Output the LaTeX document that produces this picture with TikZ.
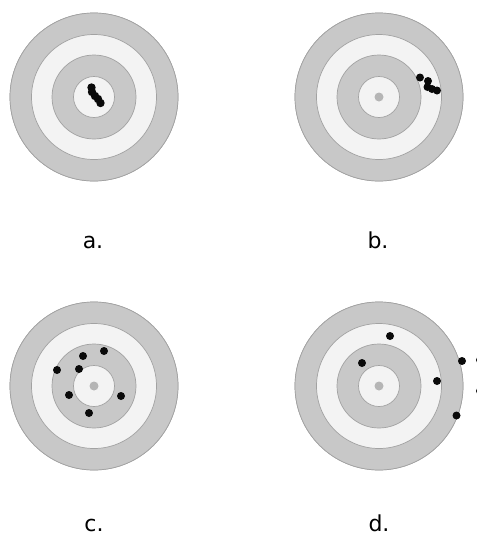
\documentclass[tikz,border=0pt]{standalone}
\usepackage{fontspec}
\setmainfont{DejaVu Sans}
\definecolor{ringgray}{HTML}{C8C8C8}
\definecolor{ringlight}{HTML}{F3F3F3}
\definecolor{ringline}{HTML}{A2A2A2}
\definecolor{dotgray}{HTML}{B5B5B5}
\definecolor{shotblack}{HTML}{0A0A0A}
\tikzset{
  ringdark/.style={fill=ringgray, draw=ringline, line width=0.7pt},
  ringpale/.style={fill=ringlight, draw=ringline, line width=0.7pt},
  centerdot/.style={fill=dotgray},
  shot/.style={fill=shotblack},
  lbl/.style={anchor=base, font=\fontsize{22}{26}\selectfont, text=black, inner sep=0pt},
}
\newcommand{\targetat}[2]{%
  \fill[ringdark] (#1,#2) circle (84);
  \fill[ringpale] (#1,#2) circle (62.5);
  \fill[ringdark] (#1,#2) circle (42);
  \fill[ringpale] (#1,#2) circle (20.5);
  \draw[ringdark] (#1,#2) circle (84);
  \draw[ringpale] (#1,#2) circle (62.5);
  \draw[ringdark] (#1,#2) circle (42);
  \draw[ringpale] (#1,#2) circle (20.5);
}
\begin{document}
\begin{tikzpicture}[x=1pt,y=-1pt]
\useasboundingbox (0,0) rectangle (477,536);
\begin{scope}
\clip (0,0) rectangle (477,536);
% a
\targetat{94}{97}
\foreach \px/\py in {91.5/87.5, 92/92, 95/96, 98/99, 100.5/103}
  \fill[shot] (\px,\py) circle (4.2);
% b
\targetat{379}{97}
\fill[centerdot] (379,97) circle (4.5);
\foreach \px/\py in {420/77.5, 428/81, 427.5/87, 432/89, 437/90.5}
  \fill[shot] (\px,\py) circle (4);
% c
\targetat{94}{386}
\fill[centerdot] (94,386) circle (4.5);
\foreach \px/\py in {104/351, 83/356, 57/370, 79/369, 69/395, 89/413, 121/396}
  \fill[shot] (\px,\py) circle (4);
% d
\targetat{379}{386}
\fill[centerdot] (379,386) circle (4.5);
\foreach \px/\py in {390/336, 362/363, 437/381, 462/361, 456.5/415.5, 480/360, 480/391}
  \fill[shot] (\px,\py) circle (4);
\end{scope}
\node[lbl] (la) at (93,248) {a.};
\node[lbl] (lb) at (378,248) {b.};
\node[lbl] (lc) at (94,531) {c.};
\node[lbl] (ld) at (379,531) {d.};
\end{tikzpicture}
\end{document}
